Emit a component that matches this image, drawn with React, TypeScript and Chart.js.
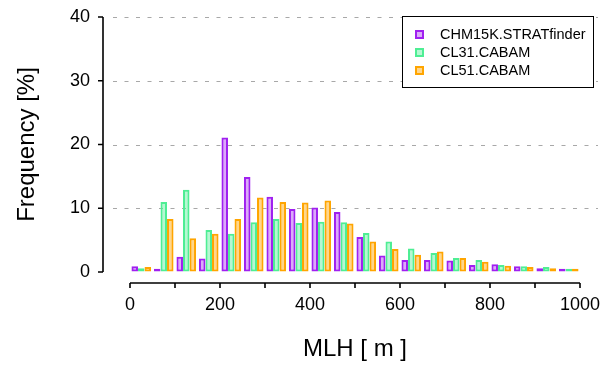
import React, { useEffect, useRef } from 'react';
import { Chart, registerables } from 'chart.js';

Chart.register(...registerables);

// Bin centres of the MLH histogram [m] (50 m bins)
const binCenters = [25, 75, 125, 175, 225, 275, 325, 375, 425, 475, 525, 575, 625, 675, 725, 775, 825, 875, 925, 975];
// Frequency [%]
const chm15kStratfinder = [0.9, 0.5, 2.4, 2.1, 21.1, 14.9, 11.8, 9.9, 10.1, 9.4, 5.5, 2.6, 1.9, 1.9, 1.8, 1.1, 1.2, 0.9, 0.6, 0.5];
const cl31Cabam = [0.6, 11.0, 12.9, 6.6, 6.0, 7.8, 8.3, 7.7, 7.9, 7.8, 6.1, 4.8, 3.7, 3.0, 2.2, 1.9, 1.1, 0.9, 0.8, 0.5];
const cl51Cabam = [0.8, 8.3, 5.3, 6.0, 8.3, 11.7, 11.0, 10.9, 11.2, 7.6, 4.8, 3.6, 2.7, 3.2, 2.2, 1.6, 1.0, 0.8, 0.6, 0.5];
const seriesNames = ['CHM15K.STRATfinder', 'CL31.CABAM', 'CL51.CABAM'];
const seriesBorder = ['#A020F0', '#4EEE94', '#FFA500'];
const seriesFill = ['rgba(160,32,240,0.38)', 'rgba(78,238,148,0.42)', 'rgba(255,165,0,0.45)'];
// Axis ticks
const xMin = 0;
const xMax = 1000;
const xMinorStep = 100;
const xLabelStep = 200;
const yMin = 0;
const yMax = 40;
const yStep = 10;
const xTitle = 'MLH [ m ]';
const yTitle = 'Frequency [%]';

const FONT = "'Liberation Sans', Arial, Helvetica, sans-serif";

const rAxesPlugin = {
  id: 'rAxes',
  beforeDatasetsDraw(chart: any) {
    const { ctx, chartArea, scales } = chart;
    const y = scales.y;
    ctx.save();
    ctx.strokeStyle = '#a8a8a8';
    ctx.lineWidth = 1.2;
    ctx.setLineDash([4, 7.5]);
    for (const t of y.ticks) {
      if (t.value === yMin) continue;
      const py = Math.round(y.getPixelForValue(t.value)) + 0.5;
      ctx.beginPath();
      ctx.moveTo(chartArea.left - 17, py);
      ctx.lineTo(chartArea.right + 18, py);
      ctx.stroke();
    }
    ctx.restore();
  },
  afterDraw(chart: any) {
    const { ctx, chartArea, scales } = chart;
    const y = scales.y;
    const x = scales.x2;
    ctx.save();
    ctx.strokeStyle = '#000';
    ctx.lineWidth = 1.6;
    ctx.setLineDash([]);
    // y axis (detached)
    const ax = chartArea.left - 27;
    ctx.beginPath();
    ctx.moveTo(ax, y.getPixelForValue(yMin));
    ctx.lineTo(ax, y.getPixelForValue(yMax));
    for (const t of y.ticks) {
      const py = y.getPixelForValue(t.value);
      ctx.moveTo(ax, py);
      ctx.lineTo(ax - 5, py);
    }
    ctx.stroke();
    // x axis (detached)
    const ay = chartArea.bottom + 11;
    ctx.beginPath();
    ctx.moveTo(x.getPixelForValue(xMin), ay);
    ctx.lineTo(x.getPixelForValue(xMax), ay);
    for (const t of x.ticks) {
      const px = x.getPixelForValue(t.value);
      ctx.moveTo(px, ay);
      ctx.lineTo(px, ay + 5);
    }
    ctx.stroke();

    // legend
    const bx = 402, by = 16, bw = 191, bh = 71;
    ctx.fillStyle = '#fff';
    ctx.fillRect(bx, by, bw, bh);
    ctx.lineWidth = 1;
    ctx.strokeStyle = '#000';
    ctx.strokeRect(bx + 0.5, by + 0.5, bw, bh);
    ctx.font = `14.5px ${FONT}`;
    ctx.textBaseline = 'middle';
    ctx.textAlign = 'left';
    chart.data.datasets.forEach((ds: any, i: number) => {
      const cy = by + 18 + i * 18;
      ctx.fillStyle = '#fff';
      ctx.fillRect(bx + 13, cy - 4, 9, 9);
      ctx.fillStyle = ds.backgroundColor;
      ctx.fillRect(bx + 13, cy - 4, 9, 9);
      ctx.strokeStyle = ds.borderColor;
      ctx.lineWidth = 2;
      ctx.strokeRect(bx + 14, cy - 3, 7, 7);
      ctx.fillStyle = '#000';
      ctx.fillText(ds.label, bx + 38, cy + 1);
    });
    ctx.restore();
  },
};

export default function App() {
  const ref = useRef<HTMLCanvasElement>(null);
  useEffect(() => {
    if (!ref.current) return;
    const seriesData = [chm15kStratfinder, cl31Cabam, cl51Cabam];
    const chart = new Chart(ref.current, {
      type: 'bar',
      data: {
        labels: binCenters.map(String),
        datasets: seriesData.map((d, i) => ({
          label: seriesNames[i],
          data: d,
          backgroundColor: seriesFill[i],
          borderColor: seriesBorder[i],
          borderWidth: 2,
          borderSkipped: false,
          categoryPercentage: 0.87,
          barPercentage: 1.0,
          xAxisID: 'x',
          yAxisID: 'y',
        })),
      },
      options: {
        animation: false,
        responsive: false,
        layout: { padding: { left: 0, top: 17, right: 22, bottom: 0 } },
        plugins: { legend: { display: false }, tooltip: { enabled: false } },
        scales: {
          x: { type: 'category', display: false, offset: true },
          x2: {
            type: 'linear',
            position: 'bottom',
            min: xMin,
            max: xMax,
            offset: false,
            grid: { display: true, drawOnChartArea: false, drawTicks: true, tickLength: 22, tickColor: 'rgba(0,0,0,0)', offset: false },
            border: { display: false },
            ticks: {
              stepSize: xMinorStep,
              autoSkip: false,
              maxRotation: 0,
              padding: 0,
              color: '#000',
              font: { family: FONT, size: 18 },
              callback: (v: any) => (Number(v) % xLabelStep === 0 ? String(v) : ''),
            },
            title: {
              display: true,
              text: xTitle,
              color: '#000',
              font: { family: FONT, size: 24 },
              padding: { top: 0, bottom: 2 },
            },
            afterFit: (s: any) => { s.height = 94; },
          },
          y: {
            type: 'linear',
            min: yMin,
            max: yMax,
            grid: { display: true, drawOnChartArea: false, drawTicks: true, tickLength: 40, tickColor: 'rgba(0,0,0,0)' },
            border: { display: false },
            ticks: {
              stepSize: yStep,
              padding: 0,
              color: '#000',
              font: { family: FONT, size: 18 },
            },
            title: {
              display: true,
              text: yTitle,
              color: '#000',
              font: { family: FONT, size: 24 },
              padding: { top: 13, bottom: 0 },
            },
            afterFit: (s: any) => { s.width = 130; },
          },
        },
      },
      plugins: [rAxesPlugin],
    });
    return () => chart.destroy();
  }, []);
  return (
    <div style={{ position: 'fixed', left: 0, top: 0, width: 602, height: 366, background: '#fff' }}>
      <canvas ref={ref} width={602} height={366} style={{ display: 'block' }} />
    </div>
  );
}
